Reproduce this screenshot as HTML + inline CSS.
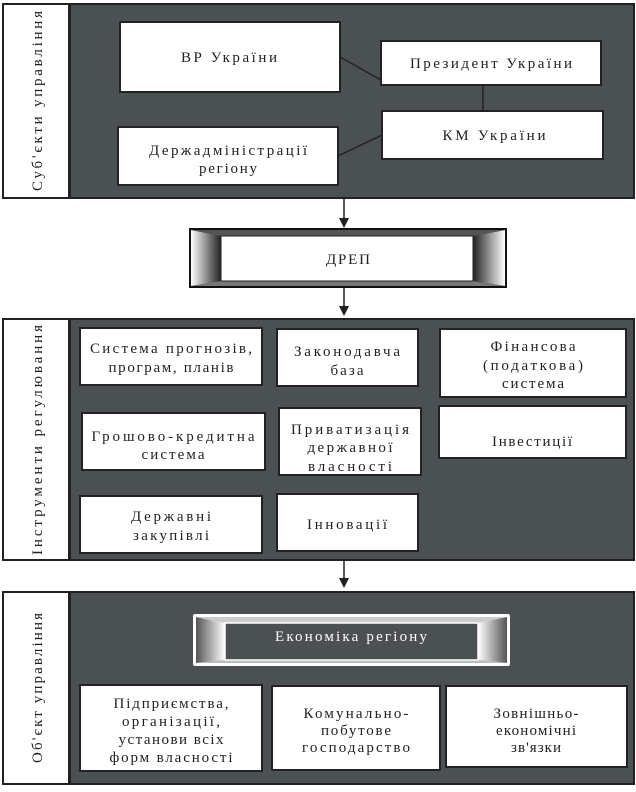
<!DOCTYPE html>
<html><head><meta charset="utf-8"><style>
html,body{margin:0;padding:0;background:#fff;}
svg text{font-family:"Liberation Serif","DejaVu Serif",serif;font-size:15px;fill:#222;}
</style></head><body>
<svg width="636" height="787" viewBox="0 0 636 787" xmlns="http://www.w3.org/2000/svg">
<defs>
<linearGradient id="gl" x1="0" x2="1"><stop offset="0" stop-color="#fff"/><stop offset="1" stop-color="#222"/></linearGradient>
<linearGradient id="gr" x1="1" x2="0"><stop offset="0" stop-color="#fff"/><stop offset="1" stop-color="#222"/></linearGradient>
<linearGradient id="gl2" x1="0" x2="1"><stop offset="0" stop-color="#555"/><stop offset="1" stop-color="#fff"/></linearGradient>
<linearGradient id="gr2" x1="1" x2="0"><stop offset="0" stop-color="#555"/><stop offset="1" stop-color="#fff"/></linearGradient>
</defs>
<g stroke="#222" stroke-width="2">
<rect x="3" y="4" width="66" height="194" fill="#fff"/>
<rect x="70" y="4" width="564" height="194" fill="#4b5053"/>
<rect x="3" y="319" width="66" height="241" fill="#fff"/>
<rect x="70" y="319" width="564" height="241" fill="#4b5053"/>
<rect x="3" y="592" width="66" height="192" fill="#fff"/>
<rect x="70" y="592" width="564" height="192" fill="#4b5053"/>
</g>
<g stroke="#222" stroke-width="1.5" fill="none">
<line x1="340" y1="57" x2="381" y2="80"/>
<line x1="483" y1="84" x2="483" y2="110"/>
<line x1="382" y1="135" x2="338" y2="156"/>
<line x1="344" y1="198" x2="344" y2="220"/>
<line x1="344" y1="287" x2="344" y2="308"/>
<line x1="344" y1="560" x2="344" y2="580"/>
</g>
<g fill="#222">
<polygon points="339,218 349,218 344,228"/>
<polygon points="339,306 349,306 344,316"/>
<polygon points="339,578 349,578 344,588"/>
</g>
<g fill="#fff" stroke="#222" stroke-width="2">
<rect x="120" y="22" width="220" height="70"/>
<rect x="381" y="41" width="220" height="44"/>
<rect x="382" y="111" width="221" height="48"/>
<rect x="118" y="127" width="220" height="58"/>
<rect x="80" y="328" width="182" height="57"/>
<rect x="277" y="329" width="141" height="57"/>
<rect x="440" y="329" width="186" height="68"/>
<rect x="82" y="413" width="183" height="57"/>
<rect x="279" y="408" width="142" height="67"/>
<rect x="439" y="406" width="187" height="52"/>
<rect x="80" y="496" width="182" height="57"/>
<rect x="277" y="494" width="141" height="57"/>
<rect x="80" y="685" width="182" height="86"/>
<rect x="272" y="686" width="168" height="84"/>
<rect x="446" y="686" width="181" height="81"/>
</g>
<rect x="190" y="229" width="316" height="58" fill="#333" stroke="#111" stroke-width="2"/>
<polygon points="191,230 221,236 221,281 191,286" fill="url(#gl)"/>
<polygon points="505,230 473,236 473,281 505,286" fill="url(#gr)"/>
<polygon points="191,230 505,230 473,236 221,236" fill="#555"/>
<polygon points="191,286 505,286 473,281 221,281" fill="#777"/>
<rect x="221" y="236" width="252" height="45" fill="#fff" stroke="#222" stroke-width="1"/>
<rect x="193" y="614" width="317" height="52" fill="#fff" rx="2"/>
<polygon points="196,617 225,623 225,660 196,663" fill="url(#gl2)"/>
<polygon points="507,617 478,623 478,660 507,663" fill="url(#gr2)"/>
<polygon points="196,617 507,617 478,623 225,623" fill="#ccc"/>
<polygon points="196,663 507,663 478,660 225,660" fill="#bbb"/>
<rect x="225" y="623" width="253" height="37" fill="#4b5053" stroke="#fff" stroke-width="1.5"/>
<text transform="translate(42,101) rotate(-90)" text-anchor="middle" textLength="180" lengthAdjust="spacing">Суб'єкти управління</text>
<text transform="translate(42,440) rotate(-90)" text-anchor="middle" textLength="230" lengthAdjust="spacing">Інструменти регулювання</text>
<text transform="translate(42,688) rotate(-90)" text-anchor="middle" textLength="150" lengthAdjust="spacing">Об'єкт управління</text>
<g text-anchor="middle">
<text x="229" y="62" textLength="96" lengthAdjust="spacing">ВР України</text>
<text x="491" y="68" textLength="162" lengthAdjust="spacing">Президент України</text>
<text x="494" y="140" textLength="103" lengthAdjust="spacing">КМ України</text>
<text x="228" y="155" textLength="158" lengthAdjust="spacing">Держадміністрації</text>
<text x="228" y="173" textLength="58" lengthAdjust="spacing">регіону</text>
<text x="348" y="264" textLength="44" lengthAdjust="spacing">ДРЕП</text>
<text x="171" y="353" textLength="162" lengthAdjust="spacing">Система прогнозів,</text>
<text x="171" y="372" textLength="125" lengthAdjust="spacing">програм, планів</text>
<text x="347" y="356" textLength="106" lengthAdjust="spacing">Законодавча</text>
<text x="347" y="375" textLength="33" lengthAdjust="spacing">база</text>
<text x="533" y="351" textLength="85" lengthAdjust="spacing">Фінансова</text>
<text x="533" y="370" textLength="100" lengthAdjust="spacing">(податкова)</text>
<text x="533" y="388" textLength="62" lengthAdjust="spacing">система</text>
<text x="173" y="441" textLength="163" lengthAdjust="spacing">Грошово-кредитна</text>
<text x="173" y="459" textLength="63" lengthAdjust="spacing">система</text>
<text x="350" y="434" textLength="118" lengthAdjust="spacing">Приватизація</text>
<text x="350" y="452" textLength="85" lengthAdjust="spacing">державної</text>
<text x="350" y="471" textLength="84" lengthAdjust="spacing">власності</text>
<text x="532" y="446" textLength="80" lengthAdjust="spacing">Інвестиції</text>
<text x="171" y="521" textLength="80" lengthAdjust="spacing">Державні</text>
<text x="171" y="540" textLength="76" lengthAdjust="spacing">закупівлі</text>
<text x="347" y="529" textLength="80" lengthAdjust="spacing">Інновації</text>
<text x="351" y="641" textLength="152" lengthAdjust="spacing" style="fill:#fff">Економіка регіону</text>
<text x="171" y="708" textLength="115" lengthAdjust="spacing">Підприємства,</text>
<text x="171" y="726" textLength="98" lengthAdjust="spacing">організації,</text>
<text x="171" y="744" textLength="105" lengthAdjust="spacing">установи всіх</text>
<text x="171" y="762" textLength="123" lengthAdjust="spacing">форм власності</text>
<text x="356" y="718" textLength="105" lengthAdjust="spacing">Комунально-</text>
<text x="356" y="735" textLength="70" lengthAdjust="spacing">побутове</text>
<text x="356" y="752" textLength="108" lengthAdjust="spacing">господарство</text>
<text x="536" y="718" textLength="85" lengthAdjust="spacing">Зовнішньо-</text>
<text x="536" y="735" textLength="80" lengthAdjust="spacing">економічні</text>
<text x="536" y="752" textLength="50" lengthAdjust="spacing">зв'язки</text>
</g>
</svg>
</body></html>
